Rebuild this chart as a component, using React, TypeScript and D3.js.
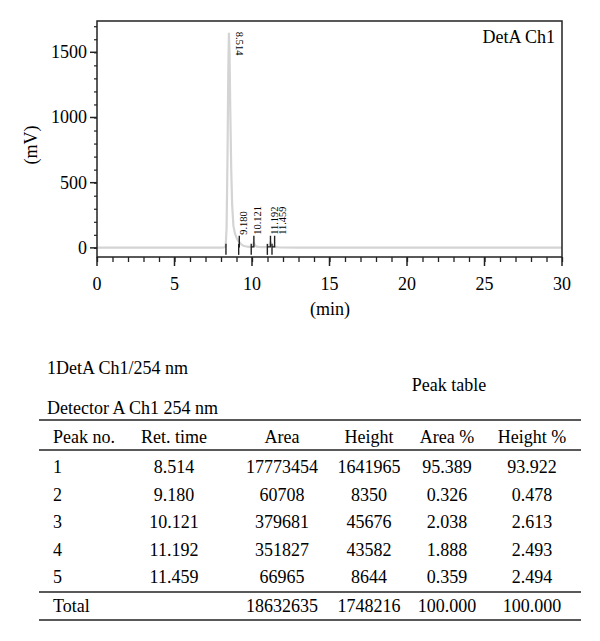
import React, { useEffect, useRef } from "react";
import * as d3 from "d3";

// chromatogram trace (min, mV)
const traceTime = [0, 4, 8, 8.2, 8.3, 8.36, 8.42, 8.47, 8.51, 8.55, 8.6, 8.66, 8.72, 8.8, 8.9, 9.0, 9.1, 9.18, 9.28, 9.45, 9.7, 10.0, 10.08, 10.121, 10.17, 10.3, 10.6, 11.0, 11.12, 11.192, 11.3, 11.4, 11.459, 11.55, 11.8, 13, 20, 30];
const traceMv = [2, 2, 2, 3, 12, 150, 700, 1350, 1650, 1500, 1050, 600, 330, 170, 110, 80, 55, 45, 30, 16, 9, 6, 25, 45, 22, 9, 5, 6, 25, 43, 18, 10, 9, 5, 3, 2, 2, 2];

// peak table
const peakNo = ["1", "2", "3", "4", "5"];
const retTime = [8.514, 9.18, 10.121, 11.192, 11.459];
const peakStart = [8.32, 9.14, 9.95, 10.99, 11.29];
const areas = [17773454, 60708, 379681, 351827, 66965];
const heights = [1641965, 8350, 45676, 43582, 8644];
const areaPct = ["95.389", "0.326", "2.038", "1.888", "0.359"];
const heightPct = ["93.922", "0.478", "2.613", "2.493", "2.494"];
const totals = ["Total", "", "18632635", "1748216", "100.000", "100.000"];
const headers = ["Peak no.", "Ret. time", "Area", "Height", "Area %", "Height %"];

const xTicks = [0, 5, 10, 15, 20, 25, 30];
const yTicks = [0, 500, 1000, 1500];

const font = "'Liberation Serif', 'DejaVu Serif', serif";

const App = () => {
  const ref = useRef<SVGSVGElement>(null);

  useEffect(() => {
    const svg = d3.select(ref.current);
    svg.selectAll("*").remove();

    const left = 97,
      right = 562,
      top = 21,
      bottom = 257;

    const x = d3.scaleLinear().domain([0, 30]).range([left, right]);
    const y = d3.scaleLinear().domain([-70, 1740]).range([bottom, top]);
    const y0 = y(0);

    // trace
    const line = d3
      .line<number>()
      .x((d, i) => x(traceTime[i]))
      .y((d) => y(d));
    svg
      .append("path")
      .attr("d", line(traceMv))
      .attr("fill", "none")
      .attr("stroke", "#d4d4d4")
      .attr("stroke-width", 2.2);

    // frame
    svg
      .append("rect")
      .attr("x", left)
      .attr("y", top)
      .attr("width", right - left)
      .attr("height", bottom - top)
      .attr("fill", "none")
      .attr("stroke", "#222")
      .attr("stroke-width", 1.5);

    // x axis
    const xAxis = d3
      .axisBottom(x)
      .tickValues(d3.range(0, 31, 1))
      .tickSize(5)
      .tickFormat(() => "");
    svg
      .append("g")
      .attr("transform", `translate(0,${bottom})`)
      .call(xAxis)
      .call((g) => g.select(".domain").remove())
      .call((g) => g.selectAll("line").attr("stroke", "#222").attr("stroke-width", 1.3));
    svg
      .append("g")
      .selectAll("line")
      .data(xTicks)
      .enter()
      .append("line")
      .attr("x1", (d) => x(d))
      .attr("x2", (d) => x(d))
      .attr("y1", bottom)
      .attr("y2", bottom + 9)
      .attr("stroke", "#222")
      .attr("stroke-width", 1.5);
    svg
      .append("g")
      .selectAll("text")
      .data(xTicks)
      .enter()
      .append("text")
      .attr("x", (d) => x(d))
      .attr("y", 290)
      .attr("text-anchor", "middle")
      .style("font-family", font)
      .style("font-size", "18px")
      .text((d) => d);

    // y axis
    const yAxis = d3
      .axisLeft(y)
      .tickValues(d3.range(0, 1701, 100))
      .tickSize(3)
      .tickFormat(() => "");
    svg
      .append("g")
      .attr("transform", `translate(${left},0)`)
      .call(yAxis)
      .call((g) => g.select(".domain").remove())
      .call((g) => g.selectAll("line").attr("stroke", "#222").attr("stroke-width", 1.2));
    svg
      .append("g")
      .selectAll("line")
      .data(yTicks)
      .enter()
      .append("line")
      .attr("x1", left - 7)
      .attr("x2", left)
      .attr("y1", (d) => y(d))
      .attr("y2", (d) => y(d))
      .attr("stroke", "#222")
      .attr("stroke-width", 1.5);
    svg
      .append("g")
      .selectAll("text")
      .data(yTicks)
      .enter()
      .append("text")
      .attr("x", 87)
      .attr("y", (d) => y(d) + 6)
      .attr("text-anchor", "end")
      .style("font-family", font)
      .style("font-size", "18px")
      .text((d) => d);

    svg
      .append("text")
      .attr("transform", "translate(37,145) rotate(-90)")
      .attr("text-anchor", "middle")
      .style("font-family", font)
      .style("font-size", "18px")
      .text("(mV)");
    svg
      .append("text")
      .attr("x", 330)
      .attr("y", 315)
      .attr("text-anchor", "middle")
      .style("font-family", font)
      .style("font-size", "18px")
      .text("(min)");
    svg
      .append("text")
      .attr("x", 555)
      .attr("y", 43)
      .attr("text-anchor", "end")
      .style("font-family", font)
      .style("font-size", "18px")
      .text("DetA Ch1");

    // integration markers
    const marks = svg.append("g").attr("stroke", "#222").attr("stroke-width", 1.4).attr("fill", "none");
    retTime.forEach((t, i) => {
      const xs = x(peakStart[i]);
      const xr = x(t);
      marks.append("line").attr("x1", xs).attr("x2", xs).attr("y1", y0 - 4).attr("y2", y0 + 7);
      if (i > 0) {
        marks.append("path").attr("d", `M${xs},${y0 - 1}H${xr}V${y0 - 12}`);
      }
    });

    // peak labels
    let lastX = -Infinity;
    retTime.forEach((t, i) => {
      if (i === 0) {
        svg
          .append("text")
          .attr("transform", `translate(${x(t) + 7.5},${y(heights[0] / 1000) - 2}) rotate(90)`)
          .style("font-family", font)
          .style("font-size", "10.5px")
          .text(t.toFixed(3));
        return;
      }
      const lx = Math.max(x(t) + 7.5, lastX + 8);
      lastX = lx;
      svg
        .append("text")
        .attr("transform", `translate(${lx},${y0 - 13}) rotate(-90)`)
        .style("font-family", font)
        .style("font-size", "10.5px")
        .text(t.toFixed(3));
    });

    // table
    const tl = 39,
      tr = 581;
    const txt = (s: string, tx: number, ty: number, anchor = "start", size = 18) =>
      svg
        .append("text")
        .attr("x", tx)
        .attr("y", ty)
        .attr("text-anchor", anchor)
        .style("font-family", font)
        .style("font-size", size + "px")
        .text(s);

    txt("1DetA Ch1/254 nm", 47, 374);
    txt("Peak table", 449, 391, "middle");
    txt("Detector A Ch1 254 nm", 47, 414);

    [420, 450, 592, 620].forEach((ry, i) => {
      svg
        .append("line")
        .attr("x1", tl)
        .attr("x2", tr)
        .attr("y1", ry)
        .attr("y2", ry)
        .attr("stroke", "#222")
        .attr("stroke-width", i === 1 ? 1.3 : 1.7);
    });

    const colX = [53, 174, 282, 369, 447, 532];
    const colAnchor = ["start", "middle", "middle", "middle", "middle", "middle"];
    headers.forEach((h, j) => txt(h, colX[j], 443, colAnchor[j]));

    const rowY = d3.scaleLinear().domain([0, 4]).range([473, 583]);
    peakNo.forEach((p, i) => {
      const cells = [p, retTime[i].toFixed(3), String(areas[i]), String(heights[i]), areaPct[i], heightPct[i]];
      cells.forEach((c, j) => txt(c, colX[j], rowY(i), colAnchor[j]));
    });
    totals.forEach((c, j) => txt(c, colX[j], 612, colAnchor[j]));
  }, []);

  return (
    <svg
      ref={ref}
      width={600}
      height={641}
      style={{ position: "absolute", left: 0, top: 0, background: "#fff" }}
    />
  );
};

export default App;
